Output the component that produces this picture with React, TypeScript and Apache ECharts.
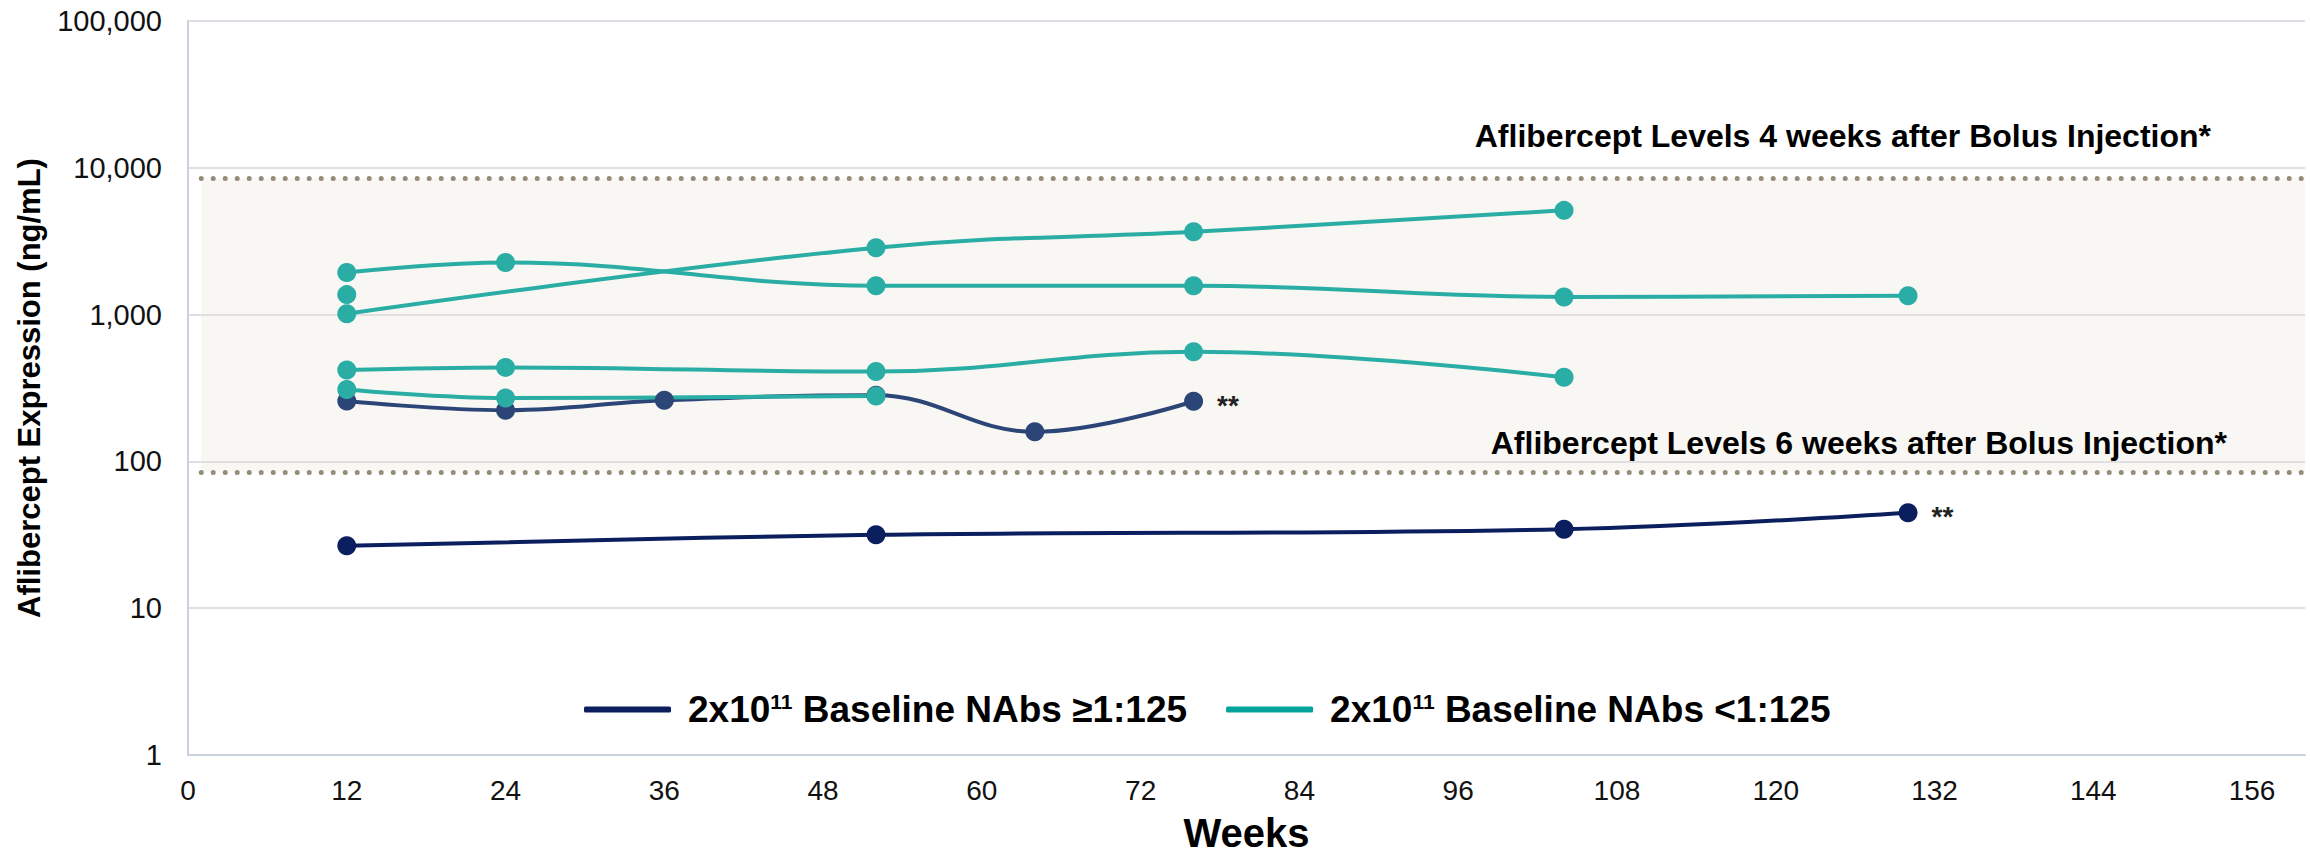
import React, { useEffect, useRef } from 'react';
import * as echarts from 'echarts';

// ---- data ----
const navyAWeeks = [12, 52, 104, 130];
const navyAValues = [26.6, 31.6, 34.5, 44.7];
const navyBWeeks = [12, 24, 36, 52, 64, 76];
const navyBValues = [258, 223, 261, 282, 159, 257];

const tealAWeeks = [12, 24, 52, 76, 104, 130];
const tealAValues = [1937, 2264, 1573, 1573, 1319, 1346];
const tealBWeeks = [12, 52, 76, 104];
const tealBValues = [1013, 2858, 3665, 5130];
const tealCWeeks = [12];
const tealCValues = [1368];
const tealDWeeks = [12, 24, 52, 76, 104];
const tealDValues = [419, 437, 409, 558, 374];
const tealEWeeks = [12, 24, 52];
const tealEValues = [309, 270, 279];

const legendNames = ['2x10¹¹ Baseline NAbs ≥1:125', '2x10¹¹ Baseline NAbs <1:125'];
const refLevels = [8500, 85];
const refLabels = [
  'Aflibercept Levels 4 weeks after Bolus Injection*',
  'Aflibercept Levels 6 weeks after Bolus Injection*',
];
const refStartWeek = 1;
const xMin = 0;
const xMax = 160;
const xInterval = 12;
const yMin = 1;
const yMax = 100000;
const starMark = '**';

const FONT = "'Liberation Sans', Arial, Helvetica, sans-serif";
const NAVY_DARK = '#0b1f5e';
const NAVY_MID = '#2c4577';
const TEAL = '#2aada5';
const TEAL_LEGEND = '#00a39b';

function makeSeries(name: string, weeks: number[], values: number[], color: string, starLast: boolean) {
  return {
    type: 'line',
    name,
    smooth: 0.4,
    symbol: 'circle',
    symbolSize: 19,
    lineStyle: { color, width: 4 },
    itemStyle: { color },
    emphasis: { disabled: true },
    data: weeks.map((w, i) => {
      if (starLast && i === weeks.length - 1) {
        return {
          value: [w, values[i]],
          label: {
            show: true,
            position: 'right',
            distance: 14,
            formatter: starMark,
            fontSize: 28,
            fontWeight: 'bold',
            fontFamily: FONT,
            color: '#222',
            offset: [0, 4],
          },
        };
      }
      return [w, values[i]];
    }),
  };
}

export default function App() {
  const ref = useRef<HTMLDivElement>(null);

  useEffect(() => {
    document.body.style.margin = '0';
    document.body.style.overflow = 'hidden';
    if (!ref.current) return;
    const chart = echarts.init(ref.current, undefined, { renderer: 'svg' });

    const refSeries = {
      type: 'line',
      name: 'reference',
      data: [],
      silent: true,
      markArea: {
        silent: true,
        itemStyle: { color: 'rgba(235,229,218,0.3)' },
        data: [[{ coord: [refStartWeek, refLevels[0]] }, { coord: [xMax, refLevels[1]] }]],
      },
      markLine: {
        silent: true,
        symbol: ['none', 'none'],
        lineStyle: { color: '#958b79', width: 5, type: [0, 12], cap: 'round' },
        data: refLevels.map((lv, i) => [
          {
            coord: [refStartWeek, lv],
            label: {
              show: true,
              position: 'insideEndTop',
              formatter: refLabels[i],
              fontSize: 32,
              fontWeight: 'bold',
              fontFamily: FONT,
              color: '#000',
              distance: i === 0 ? [94, 26] : [78, 13],
            },
          },
          { coord: [xMax, lv] },
        ]),
      },
    };

    const option: any = {
      animation: false,
      textStyle: { fontFamily: FONT },
      grid: { left: 188, right: 5, top: 21, bottom: 97, containLabel: false },
      legend: {
        data: [
          { name: legendNames[0], itemStyle: { color: NAVY_DARK } },
          { name: legendNames[1], itemStyle: { color: TEAL_LEGEND } },
        ],
        left: 579,
        top: 686,
        icon: 'roundRect',
        itemWidth: 87,
        itemHeight: 6,
        itemGap: 39,
        selectedMode: false,
        formatter: (name: string) => {
          const parts = name.split('¹¹');
          return '{gap|}' + parts[0] + '{sup|11}' + parts[1];
        },
        textStyle: {
          fontSize: 37,
          fontWeight: 'bold',
          fontFamily: FONT,
          color: '#000',
          rich: {
            gap: { width: 12 },
            sup: { fontSize: 21, fontWeight: 'bold', fontFamily: FONT, color: '#000', verticalAlign: 'top' },
          },
        },
      },
      xAxis: {
        type: 'value',
        min: xMin,
        max: xMax,
        interval: xInterval,
        name: 'Weeks',
        nameLocation: 'middle',
        nameGap: 58,
        nameTextStyle: { fontSize: 40, fontWeight: 'bold', color: '#000', fontFamily: FONT },
        axisLine: { show: true, lineStyle: { color: '#c8d0dc', width: 2 } },
        axisTick: { show: false },
        splitLine: { show: false },
        axisLabel: { fontSize: 28, color: '#111', margin: 21, showMaxLabel: false, fontFamily: FONT },
      },
      yAxis: {
        type: 'log',
        logBase: 10,
        min: yMin,
        max: yMax,
        name: 'Aflibercept Expression (ng/mL)',
        nameLocation: 'middle',
        nameGap: 143,
        nameTextStyle: { fontSize: 31, fontWeight: 'bold', color: '#000', fontFamily: FONT },
        axisLine: { show: true, lineStyle: { color: '#c8d0dc', width: 2 } },
        axisTick: { show: false },
        splitLine: { show: true, lineStyle: { color: '#dcdfe4', width: 2 } },
        axisLabel: {
          fontSize: 29,
          color: '#111',
          margin: 26,
          fontFamily: FONT,
          formatter: (v: number) => Math.round(v).toLocaleString('en-US'),
        },
      },
      series: [
        refSeries,
        makeSeries(legendNames[0], navyAWeeks, navyAValues, NAVY_DARK, true),
        makeSeries(legendNames[0], navyBWeeks, navyBValues, NAVY_MID, true),
        makeSeries(legendNames[1], tealAWeeks, tealAValues, TEAL, false),
        makeSeries(legendNames[1], tealBWeeks, tealBValues, TEAL, false),
        makeSeries(legendNames[1], tealCWeeks, tealCValues, TEAL, false),
        makeSeries(legendNames[1], tealDWeeks, tealDValues, TEAL, false),
        makeSeries(legendNames[1], tealEWeeks, tealEValues, TEAL, false),
      ],
    };
    chart.setOption(option);
    return () => chart.dispose();
  }, []);

  return <div ref={ref} style={{ width: 2310, height: 858 }} />;
}
